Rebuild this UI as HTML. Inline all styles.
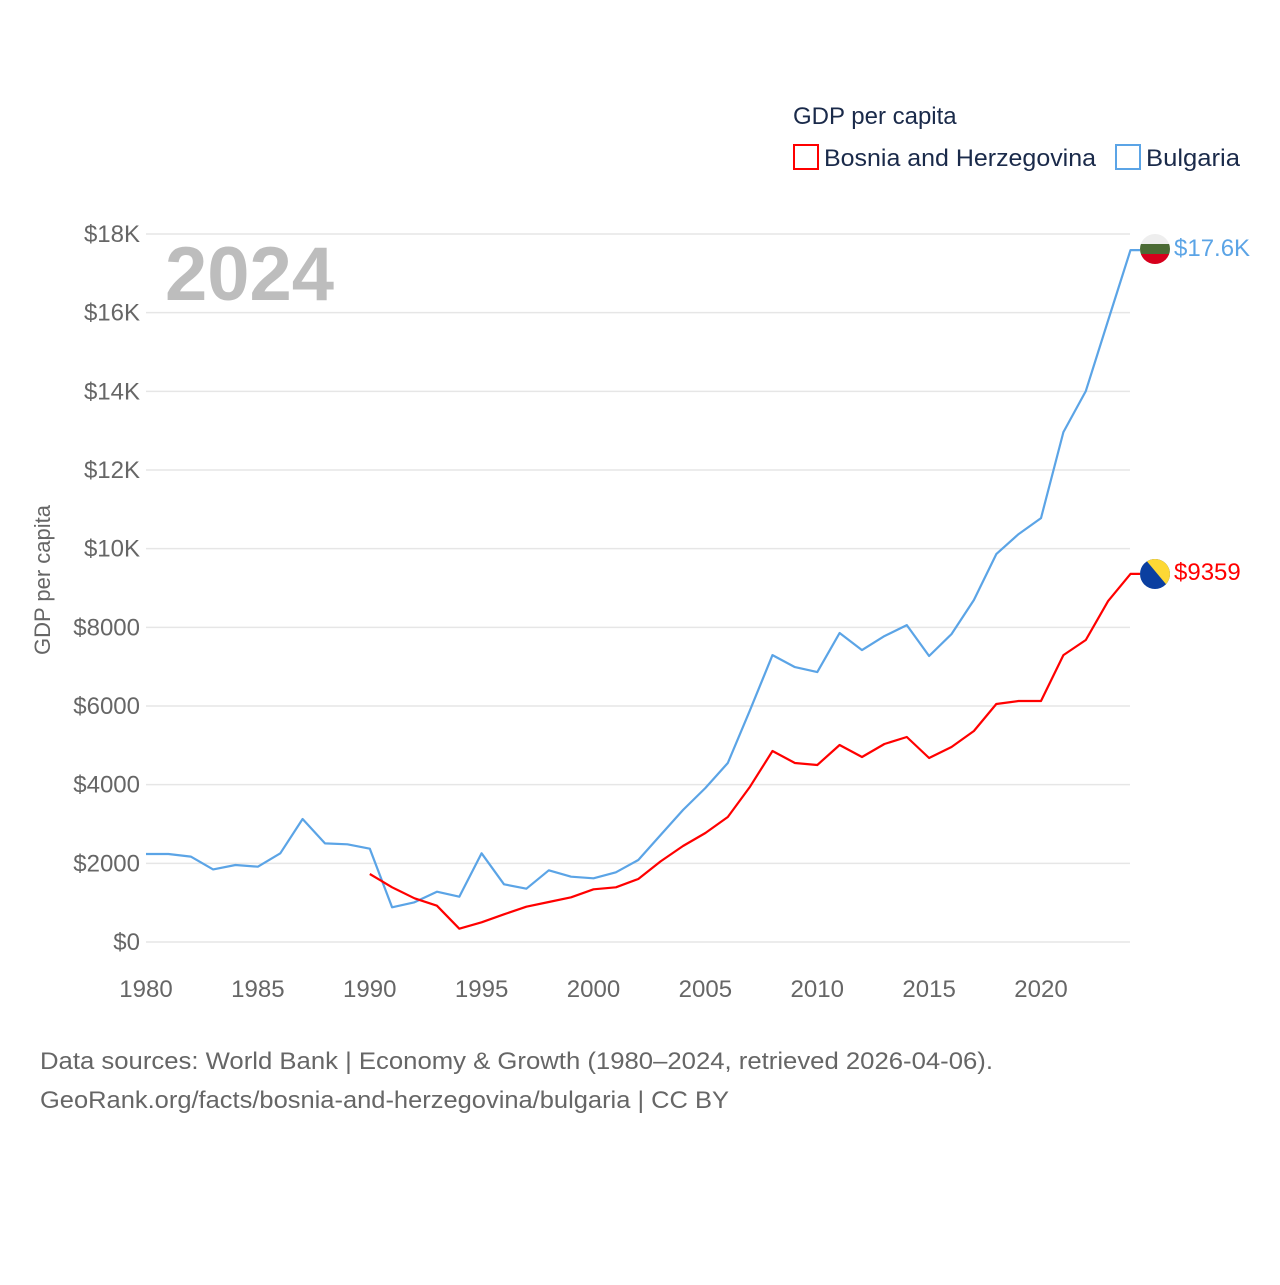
<!DOCTYPE html>
<html><head><meta charset="utf-8"><style>
body{margin:0;background:#fff;font-family:"Liberation Sans",sans-serif}
svg text{font-family:"Liberation Sans",sans-serif}
</style></head><body>
<svg width="1280" height="1280" viewBox="0 0 1280 1280">
<g id="grid"></g>
<g id="yticks"></g>
<g id="xticks"></g>
<text x="50" y="580" transform="rotate(-90 50 580)" text-anchor="middle" font-size="22" fill="#666">GDP per capita</text>
<text x="165" y="300" font-size="76" font-weight="bold" fill="#bdbdbd">2024</text>
<text x="793" y="124" font-size="24" fill="#1a2a4a">GDP per capita</text>
<g><rect x="794" y="145" width="24" height="24" fill="none" stroke="#ff0000" stroke-width="2"/><text x="824" y="166" font-size="24" fill="#1a2a4a" textLength="272" lengthAdjust="spacingAndGlyphs">Bosnia and Herzegovina</text></g>
<g><rect x="1116" y="145" width="24" height="24" fill="none" stroke="#5ba4e6" stroke-width="2"/><text x="1146" y="166" font-size="24" fill="#1a2a4a" textLength="94" lengthAdjust="spacingAndGlyphs">Bulgaria</text></g>
<g id="series"></g>
<defs><clipPath id="c1"><circle cx="1155" cy="249" r="15"/></clipPath><clipPath id="c2"><circle cx="1155" cy="574" r="15"/></clipPath></defs>
<g clip-path="url(#c1)"><rect x="1140" y="234" width="30" height="10" fill="#eee"/><rect x="1140" y="244" width="30" height="10" fill="#4b6b35"/><rect x="1140" y="254" width="30" height="10" fill="#d6001c"/></g>
<g clip-path="url(#c2)"><rect x="1140" y="559" width="30" height="30" fill="#0b3fa0"/><polygon points="1145,559 1170,559 1170,589" fill="#fdd835"/></g>
<text x="1174" y="256" font-size="24" fill="#5ba4e6">$17.6K</text>
<text x="1174" y="580" font-size="24" fill="#ff0000">$9359</text>
<text x="40" y="1069" font-size="24" fill="#666" textLength="953" lengthAdjust="spacingAndGlyphs">Data sources: World Bank | Economy &amp; Growth (1980–2024, retrieved 2026-04-06).</text>
<text x="40" y="1108" font-size="24" fill="#666" textLength="689" lengthAdjust="spacingAndGlyphs">GeoRank.org/facts/bosnia-and-herzegovina/bulgaria | CC BY</text>
</svg>
<script>
const years=[];for(let y=1980;y<=2024;y++)years.push(y);
const bulgaria=[2237,2237,2170,1847,1957,1915,2255,3127,2508,2483,2373,882,1009,1279,1152,2255,1467,1355,1822,1660,1619,1771,2084,2720,3355,3914,4550,5900,7295,6990,6863,7855,7422,7778,8058,7270,7829,8694,9863,10371,10778,12964,14006,15800,17590];
const bosniaYears=[1990,1991,1992,1993,1994,1995,1996,1997,1998,1999,2000,2001,2002,2003,2004,2005,2006,2007,2008,2009,2010,2011,2012,2013,2014,2015,2016,2017,2018,2019,2020,2021,2022,2023,2024];
const bosnia=[1728,1390,1110,923,339,500,703,898,1017,1136,1339,1390,1601,2050,2440,2770,3177,3950,4855,4550,4500,5008,4703,5033,5211,4677,4957,5364,6050,6126,6126,7295,7677,8668,9359];
const yTicks=[0,2000,4000,6000,8000,10000,12000,14000,16000,18000];
const yTickLabels=["$0","$2000","$4000","$6000","$8000","$10K","$12K","$14K","$16K","$18K"];
const xTicks=[1980,1985,1990,1995,2000,2005,2010,2015,2020];
const NS="http://www.w3.org/2000/svg";
const X=y=>146+(y-1980)*22.375;
const Y=v=>942-v*(708/18000);
function mk(t,a,p){const e=document.createElementNS(NS,t);for(const k in a)e.setAttribute(k,a[k]);p.appendChild(e);return e;}
const grid=document.getElementById('grid'),yt=document.getElementById('yticks'),xt=document.getElementById('xticks'),ser=document.getElementById('series');
yTicks.forEach((v,i)=>{
const l=mk('line',{x1:146,x2:1130,y1:Y(v),y2:Y(v),stroke:'#e6e6e6','stroke-width':1.5},grid);


const t=mk('text',{x:140,y:Y(v)+8,'text-anchor':'end','font-size':24,fill:'#666'},yt);
t.textContent=yTickLabels[i];


});
xTicks.forEach(v=>{
const t=mk('text',{x:X(v),y:997,'text-anchor':'middle','font-size':24,fill:'#666'},xt);
t.textContent=v;


});
function line(xs,vs,c,n){
let d=xs.map((y,i)=>(i?'L':'M')+X(y).toFixed(1)+','+Y(vs[i]).toFixed(1)).join(' ');
d+=' L1140,'+Y(vs[vs.length-1]).toFixed(1);
const p=mk('path',{d:d,fill:'none',stroke:c,'stroke-width':2.2,'stroke-linejoin':'round'},ser);


}
line(years,bulgaria,'#5ba4e6','bulgaria-line');
line(bosniaYears,bosnia,'#ff0000','bosnia-line');
</script>
</body></html>
